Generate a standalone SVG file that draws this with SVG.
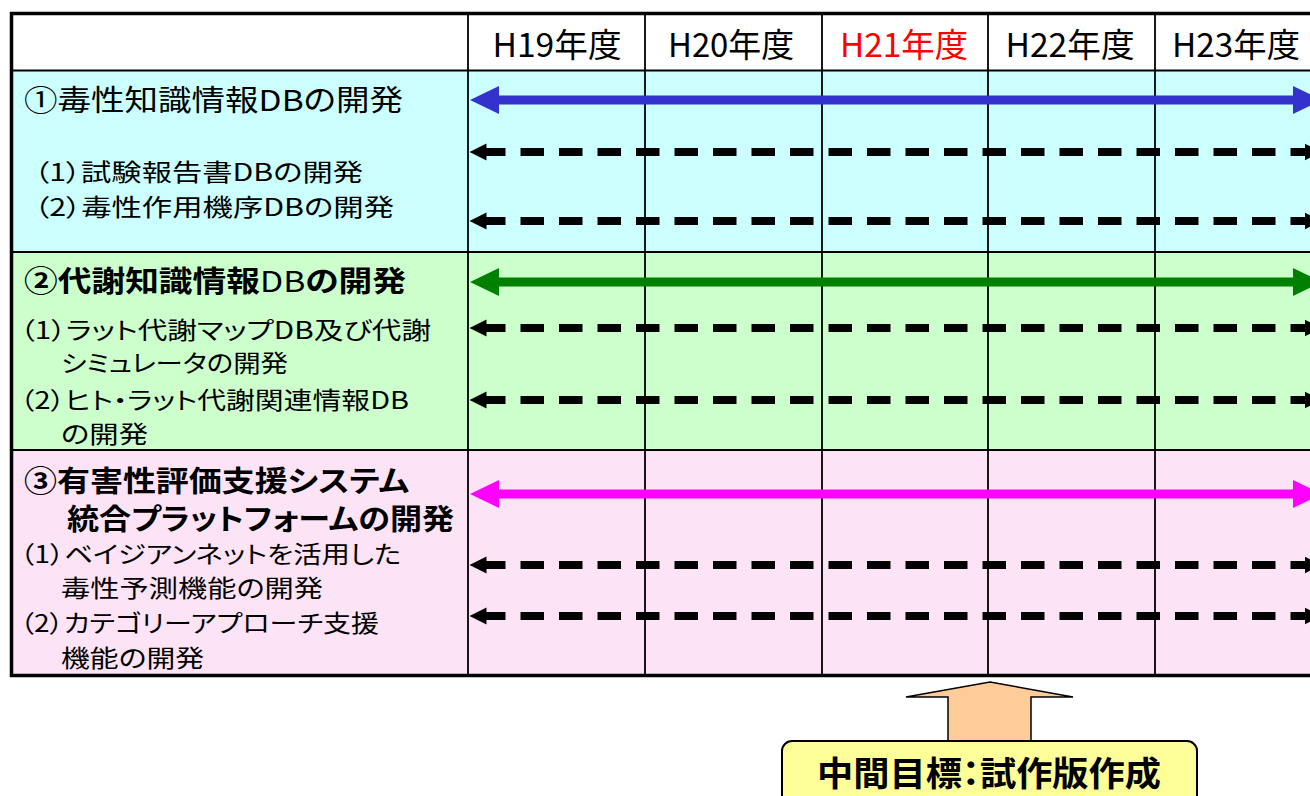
<svg xmlns="http://www.w3.org/2000/svg" width="1310" height="796" viewBox="0 0 1310 796">
<defs>
<style>
text{font-family:"Noto Sans CJK JP","Liberation Sans",sans-serif;fill:#000;font-feature-settings:"palt";}
.hdr{font-size:33px;text-anchor:middle;}
.main{font-size:29px;}
.b{font-weight:bold;}
.sub{font-size:24px;}
.grid{stroke:#000;stroke-width:1.8;fill:none;}
.border{stroke:#000;stroke-width:3.5;fill:none;}
.solid{stroke-width:9;fill:none;}
.dash{stroke:#000;stroke-width:8;fill:none;stroke-dasharray:23.5 15;stroke-dashoffset:4;marker-start:url(#hd);marker-end:url(#hd);}
</style>
<marker id="hb" markerUnits="userSpaceOnUse" markerWidth="30" markerHeight="30" viewBox="0 -15 30 30" refX="1" refY="0" orient="auto-start-reverse"><path d="M0,-14 L29,0 L0,14 Z" fill="#3333CC"/></marker>
<marker id="hg" markerUnits="userSpaceOnUse" markerWidth="30" markerHeight="30" viewBox="0 -15 30 30" refX="1" refY="0" orient="auto-start-reverse"><path d="M0,-14 L29,0 L0,14 Z" fill="#008000"/></marker>
<marker id="hm" markerUnits="userSpaceOnUse" markerWidth="30" markerHeight="30" viewBox="0 -15 30 30" refX="1" refY="0" orient="auto-start-reverse"><path d="M0,-14 L29,0 L0,14 Z" fill="#FF00FF"/></marker>
<marker id="hd" markerUnits="userSpaceOnUse" markerWidth="20" markerHeight="20" viewBox="0 -10 20 20" refX="0.5" refY="0" orient="auto-start-reverse"><path d="M0,-8.5 L17,0 L0,8.5 Z" fill="#000"/></marker>
</defs>
<rect width="1310" height="796" fill="#fff"/>

<g id="table">
<rect x="11" y="13" width="1299" height="57" fill="#fff"/>
<rect x="11" y="70" width="1299" height="182" fill="#CCFFFF"/>
<rect x="11" y="252" width="1299" height="198" fill="#CCFFCC"/>
<rect x="11" y="450" width="1299" height="226" fill="#FCE4F6"/>
<path class="grid" d="M468,13V677 M645,13V677 M822,13V677 M988,13V677 M1155,13V677"/>
<path class="grid" d="M11,70.5H1310 M11,252H1310 M11,450H1310" stroke-width="2.2"/>
<path class="border" d="M1310,13.5H11.5V675.5H1310"/>
</g>

<g id="header">
<text class="hdr" x="557" y="57" textLength="129" lengthAdjust="spacingAndGlyphs">H19年度</text>
<text class="hdr" x="731" y="57" textLength="126" lengthAdjust="spacingAndGlyphs">H20年度</text>
<text class="hdr" x="904" y="57" textLength="128" lengthAdjust="spacingAndGlyphs" style="fill:#FF0000">H21年度</text>
<text class="hdr" x="1070" y="57" textLength="129" lengthAdjust="spacingAndGlyphs">H22年度</text>
<text class="hdr" x="1236" y="57" textLength="128" lengthAdjust="spacingAndGlyphs">H23年度</text>
</g>

<g id="row1">
<text class="main" x="24" y="111" textLength="379" lengthAdjust="spacingAndGlyphs">①毒性知識情報DBの開発</text>
<text class="sub" x="34" y="181" textLength="329" lengthAdjust="spacingAndGlyphs">（1）試験報告書DBの開発</text>
<text class="sub" x="34" y="216" textLength="360" lengthAdjust="spacingAndGlyphs">（2）毒性作用機序DBの開発</text>
</g>

<g id="row2">
<text class="main b" x="24" y="292" textLength="382" lengthAdjust="spacingAndGlyphs">②代謝知識情報<tspan font-weight="normal">DB</tspan>の開発</text>
<text class="sub" x="20" y="339" textLength="411" lengthAdjust="spacingAndGlyphs">（1）ラット代謝マップDB及び代謝</text>
<text class="sub" x="61" y="372" textLength="227" lengthAdjust="spacingAndGlyphs">シミュレータの開発</text>
<text class="sub" x="20" y="409" textLength="389" lengthAdjust="spacingAndGlyphs">（2）ヒト・ラット代謝関連情報DB</text>
<text class="sub" x="61" y="443" textLength="87" lengthAdjust="spacingAndGlyphs">の開発</text>
</g>

<g id="row3">
<text class="main b" x="24" y="492" textLength="385" lengthAdjust="spacingAndGlyphs">③有害性評価支援システム</text>
<text class="main b" x="67" y="530" textLength="387" lengthAdjust="spacingAndGlyphs">統合プラットフォームの開発</text>
<text class="sub" x="20" y="563" textLength="381" lengthAdjust="spacingAndGlyphs">（1）ベイジアンネットを活用した</text>
<text class="sub" x="61" y="597" textLength="262" lengthAdjust="spacingAndGlyphs">毒性予測機能の開発</text>
<text class="sub" x="20" y="632" textLength="359" lengthAdjust="spacingAndGlyphs">（2）カテゴリーアプローチ支援</text>
<text class="sub" x="61" y="667" textLength="143" lengthAdjust="spacingAndGlyphs">機能の開発</text>
</g>

<g id="connectors">
<path class="solid" d="M498,100H1294" stroke="#3333CC" marker-start="url(#hb)" marker-end="url(#hb)"/>
<path class="dash" d="M486,152H1305"/>
<path class="dash" d="M486,221H1305"/>
<path class="solid" d="M498,282H1294" stroke="#008000" marker-start="url(#hg)" marker-end="url(#hg)"/>
<path class="dash" d="M486,328H1305"/>
<path class="dash" d="M486,400H1305"/>
<path class="solid" d="M498,494H1294" stroke="#FF00FF" marker-start="url(#hm)" marker-end="url(#hm)"/>
<path class="dash" d="M486,565H1305"/>
<path class="dash" d="M486,616H1305"/>
</g>

<g id="milestone">
<polygon points="990,682 1073,697 1031,697 1031,742 948,742 948,697 906,697" fill="#FFCC99" stroke="#000" stroke-width="1.5" stroke-linejoin="miter"/>
<rect x="782" y="741" width="415" height="75" rx="10" fill="#FFFF99" stroke="#000" stroke-width="2"/>
<text x="989" y="786" font-size="34" font-weight="bold" text-anchor="middle" textLength="344" lengthAdjust="spacingAndGlyphs">中間目標：試作版作成</text>
</g>
</svg>
